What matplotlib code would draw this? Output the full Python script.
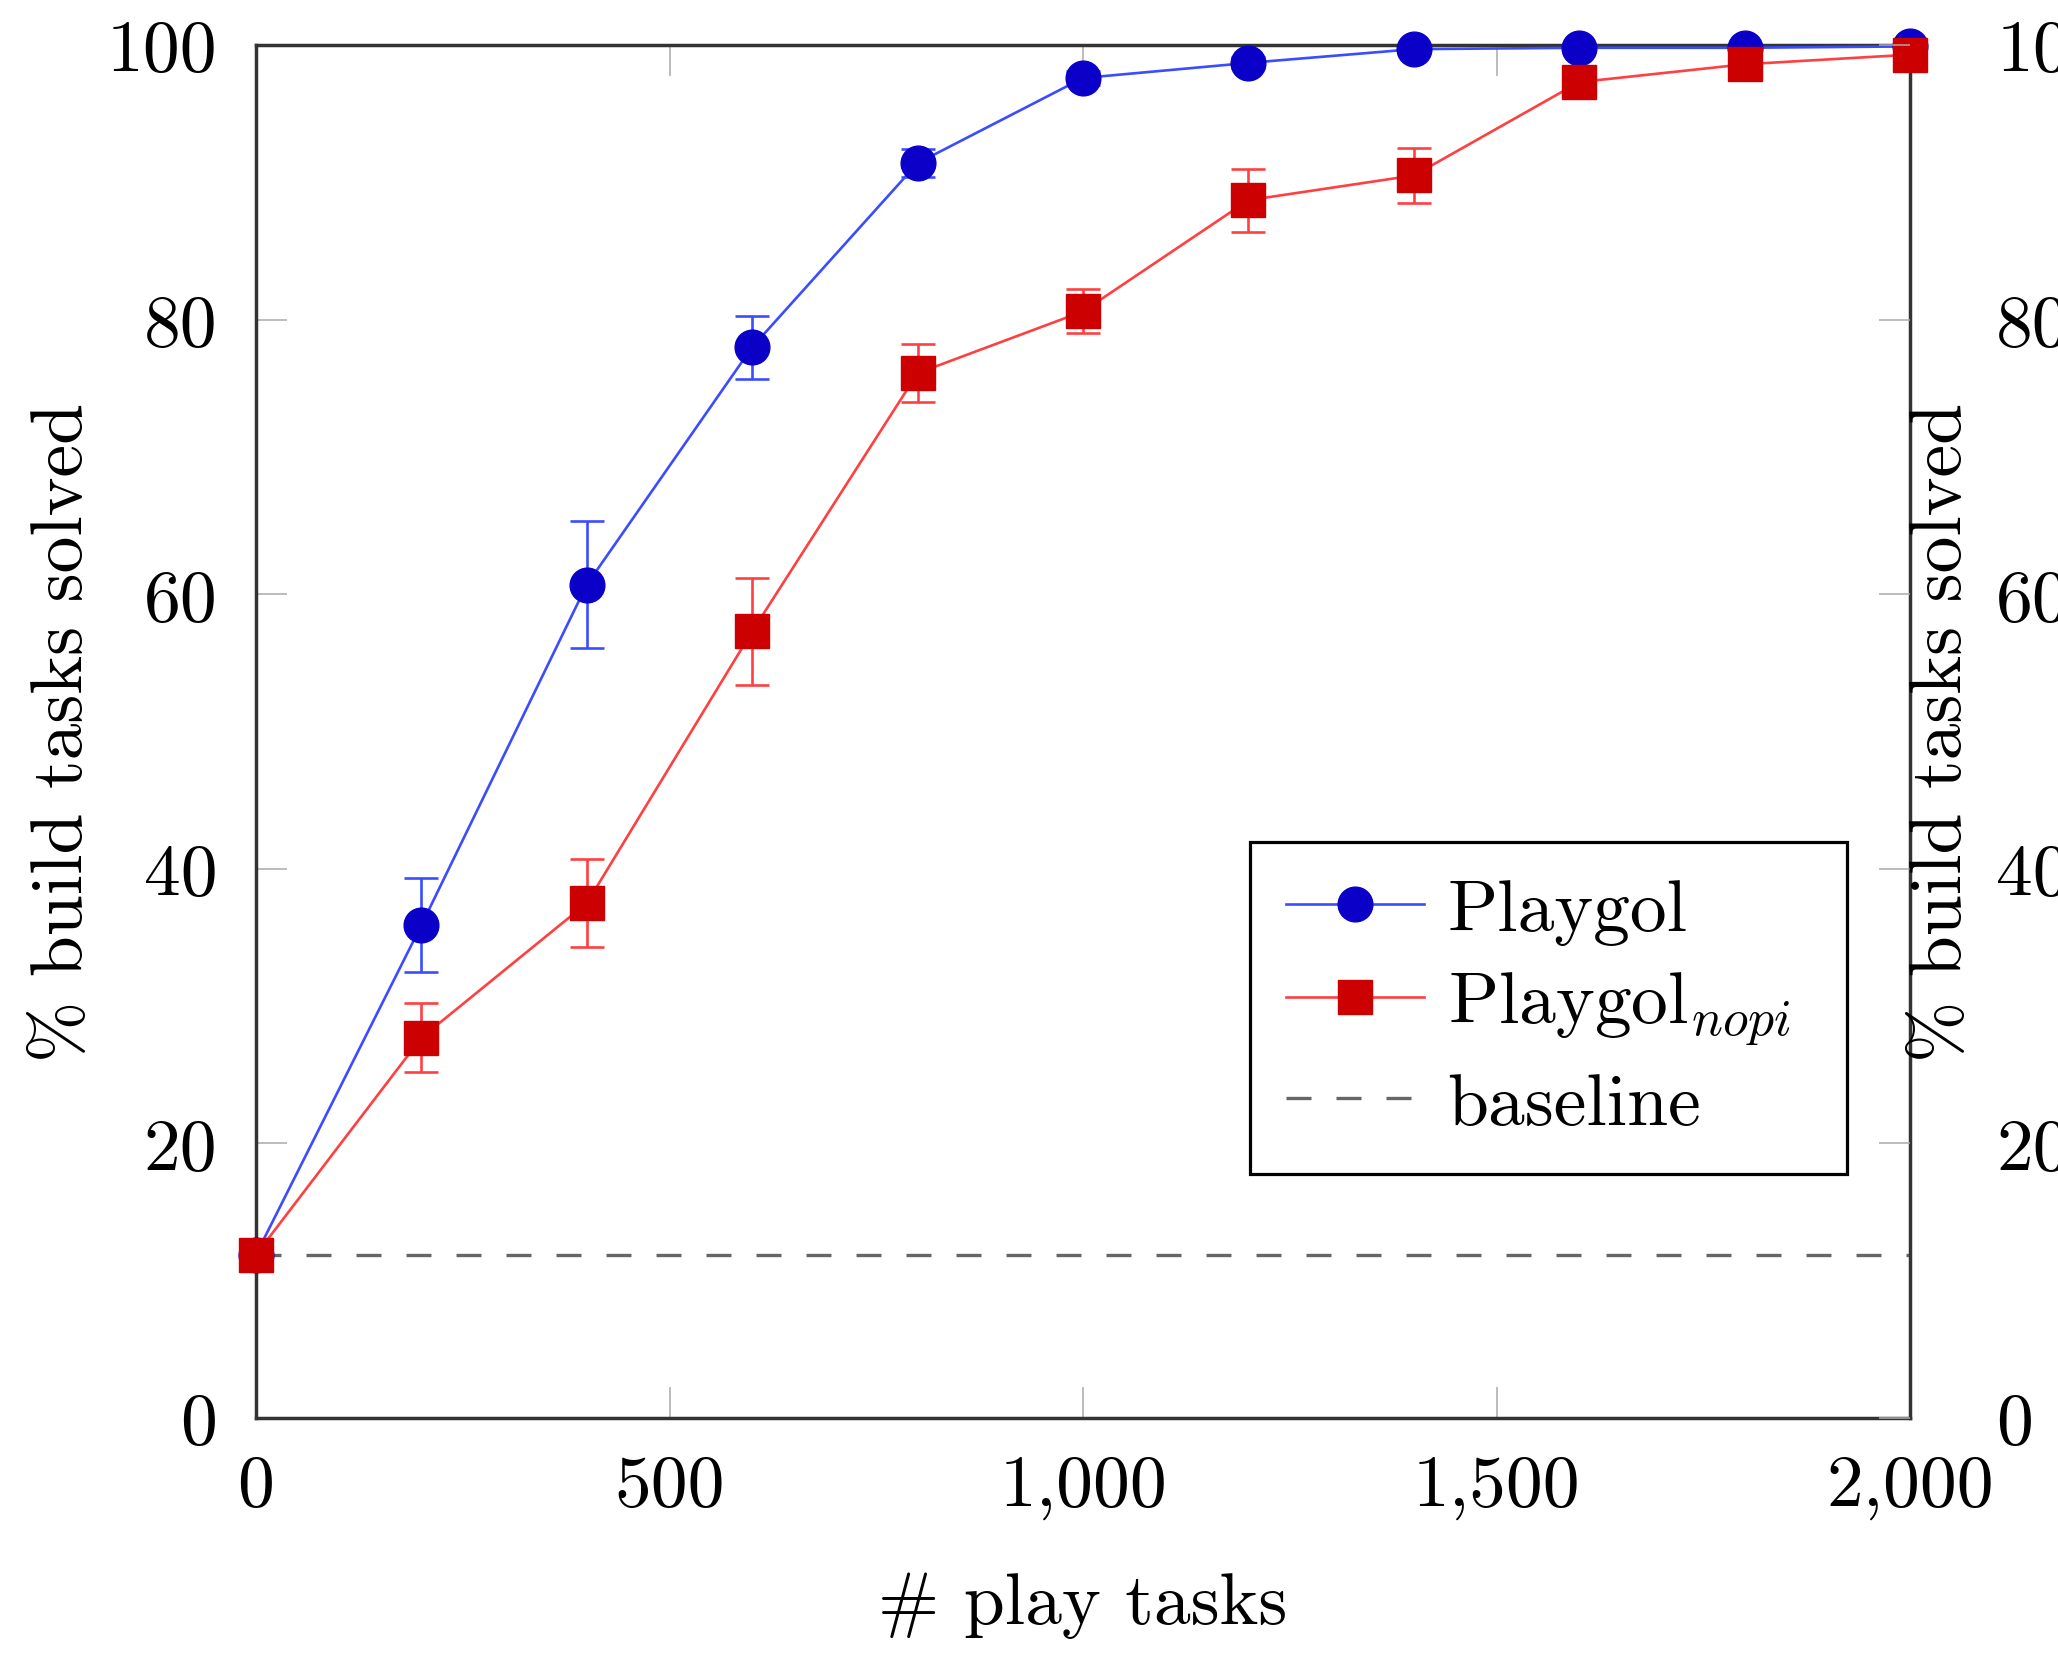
import matplotlib
matplotlib.use("Agg")
import matplotlib.pyplot as plt

# values
play_tasks = [0, 200, 400, 600, 800, 1000, 1200, 1400, 1600, 1800, 2000]
playgol = [11.9, 35.9, 60.7, 78.0, 91.4, 97.6, 98.7, 99.7, 99.8, 99.8, 99.9]
playgol_err = [0, 3.4, 4.6, 2.3, 1.0, 0.5, 0.4, 0.2, 0.2, 0.2, 0.1]
playgol_nopi = [11.9, 27.7, 37.5, 57.3, 76.1, 80.6, 88.7, 90.5, 97.3, 98.6, 99.3]
playgol_nopi_err = [0, 2.5, 3.2, 3.9, 2.1, 1.6, 2.3, 2.0, 0.5, 0.4, 0.3]
baseline = 11.9

xticks = [0, 500, 1000, 1500, 2000]
xtick_labels = ['0', '500', '1,000', '1,500', '2,000']
yticks = [0, 20, 40, 60, 80, 100]
ytick_labels = ['0', '20', '40', '60', '80', '100']

plt.rcParams['font.family'] = ['cmr10', 'DejaVu Serif']
plt.rcParams['mathtext.fontset'] = 'cm'
plt.rcParams['axes.formatter.use_mathtext'] = True
plt.rcParams['font.size'] = 53


def main():
    fig = plt.figure(figsize=(20.58, 16.56), dpi=100)
    ax = fig.add_axes([0.1244, 0.1431, 0.8037, 0.8291])

    eb1 = ax.errorbar(play_tasks, playgol, yerr=playgol_err, color='#3b4cff', lw=1.9,
                      marker='o', markersize=25, markerfacecolor='#0a00c8', markeredgecolor='#0a00c8',
                      elinewidth=1.9, capsize=12, capthick=1.9, clip_on=False, zorder=4)
    eb2 = ax.errorbar(play_tasks, playgol_nopi, yerr=playgol_nopi_err, color='#ff4040', lw=1.9,
                      marker='s', markersize=24, markerfacecolor='#cc0000', markeredgecolor='#cc0000',
                      elinewidth=1.9, capsize=12, capthick=1.9, clip_on=False, zorder=5)
    base = ax.axhline(baseline, color='#666666', lw=2.4, linestyle=(0, (7.5, 7.5)), zorder=2)

    ax.set_xlim(0, 2000)
    ax.set_ylim(0, 100)
    ax.set_xticks(xticks)
    ax.set_xticklabels(xtick_labels)
    ax.set_yticks(yticks)
    ax.set_yticklabels(ytick_labels)
    ax.tick_params(axis='both', direction='in', length=22, width=1.1, color='#aaaaaa',
                   top=True, right=False)
    ax.tick_params(axis='x', pad=26)
    ax.tick_params(axis='y', pad=28)
    for s in ax.spines.values():
        s.set_linewidth(2.5)
        s.set_color('#333333')

    ax.set_xlabel('# play tasks')
    ax.xaxis.set_label_coords(0.5, -0.112)
    ax.set_ylabel('% build tasks solved')
    ax.yaxis.set_label_coords(-0.097, 0.5)

    # duplicated axis on the right, label squeezed against the spine
    ax2 = ax.twinx()
    ax2.set_ylim(0, 100)
    ax2.set_yticks(yticks)
    ax2.set_yticklabels(ytick_labels)
    ax2.tick_params(axis='y', direction='in', length=22, width=1.1, color='#aaaaaa', pad=62)
    for s in ax2.spines.values():
        s.set_visible(False)
    ax2.set_ylabel('% build tasks solved')
    ax2.yaxis.set_label_coords(1.0, 0.5)

    leg = ax.legend([eb1.lines[0], eb2.lines[0], base],
                    ['Playgol', 'Playgol$_{nopi}$', 'baseline'],
                    loc='upper left', bbox_to_anchor=(0.6007, 0.18, 0.361, 0.2398), mode='expand',
                    numpoints=1, fancybox=False, edgecolor='black', framealpha=1, handlelength=1.87,
                    handletextpad=0.32, labelspacing=0.34, borderpad=0.5, borderaxespad=0)
    leg.get_frame().set_linewidth(2.3)

    fig.savefig('out.png', dpi=100)


if __name__ == '__main__':
    main()
